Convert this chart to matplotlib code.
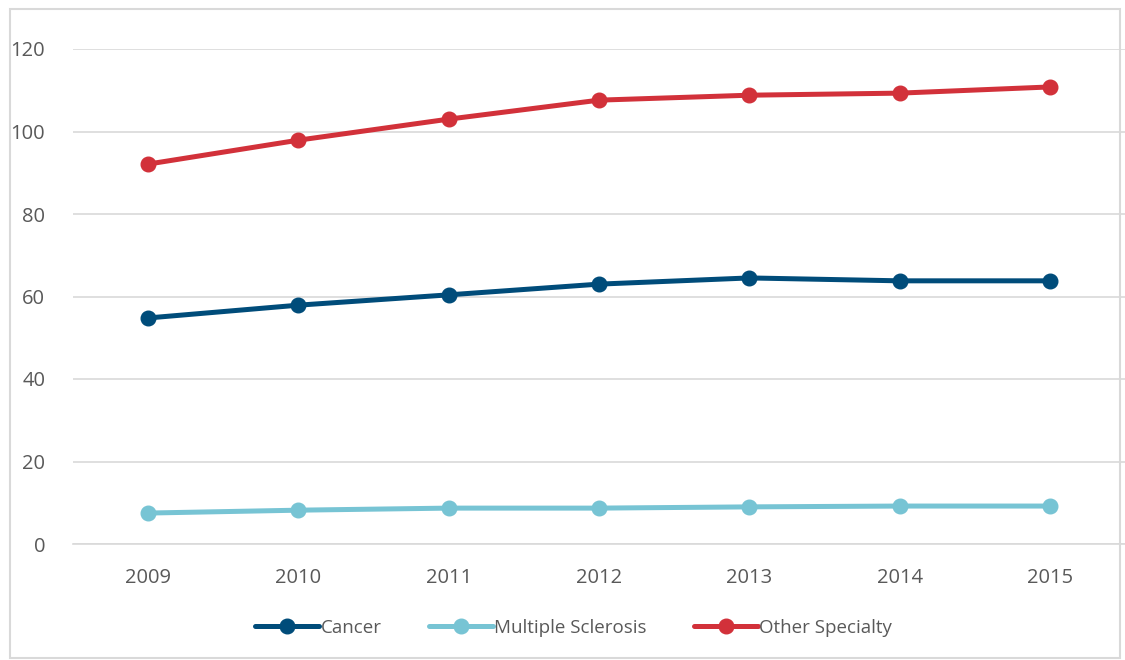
import matplotlib
matplotlib.use("Agg")
import matplotlib.pyplot as plt
from matplotlib.patches import Rectangle

years = ["2009", "2010", "2011", "2012", "2013", "2014", "2015"]
cancer = [54.8, 57.9, 60.4, 63.0, 64.5, 63.8, 63.8]
ms = [7.5, 8.2, 8.7, 8.7, 9.0, 9.2, 9.2]
other = [92.1, 97.9, 103.0, 107.6, 108.8, 109.3, 110.8]

series = [("Cancer", cancer, "#004C7A"),
          ("Multiple Sclerosis", ms, "#77C4D4"),
          ("Other Specialty", other, "#D2313A")]

plt.rcParams['font.family'] = ['Open Sans', 'DejaVu Sans']
fig = plt.figure(figsize=(11.25, 6.6), dpi=100)
fig.patches.append(Rectangle((10/1125, 2/660), 1110/1125, 649/660, transform=fig.transFigure,
                             fill=False, edgecolor="#D9D9D9", linewidth=1.5))
ax = fig.add_axes([73/1125, 1-544/660, 1052/1125, 495/660])
x = list(range(len(years)))
for name, vals, col in series:
    ax.plot(x, vals, color=col, linewidth=3.6, marker='o', markersize=10.5, label=name,
            solid_capstyle='round')
ax.set_xlim(-0.5, len(years) - 0.5)
ax.set_ylim(0, 120)
ax.set_yticks(range(0, 121, 20))
ax.set_xticks(x)
ax.set_xticklabels(years)
ax.grid(axis='y', color="#D9D9D9", linewidth=1.2)
ax.set_axisbelow(True)
for s in ['top', 'right', 'left']:
    ax.spines[s].set_visible(False)
ax.spines['bottom'].set_color("#D9D9D9")
ax.spines['bottom'].set_linewidth(1.2)
ax.tick_params(axis='both', length=0, labelsize=14.5, colors="#595959")
ax.tick_params(axis='y', pad=20)
ax.tick_params(axis='x', pad=17)
leg = ax.legend(loc='upper center', bbox_to_anchor=(0.5 - 0.024, -0.117), ncol=3, frameon=False,
                fontsize=13.5, handlelength=3.4, handletextpad=0.1, columnspacing=2.5)
for t in leg.get_texts():
    t.set_color("#595959")
fig.savefig("out.png", dpi=100)
